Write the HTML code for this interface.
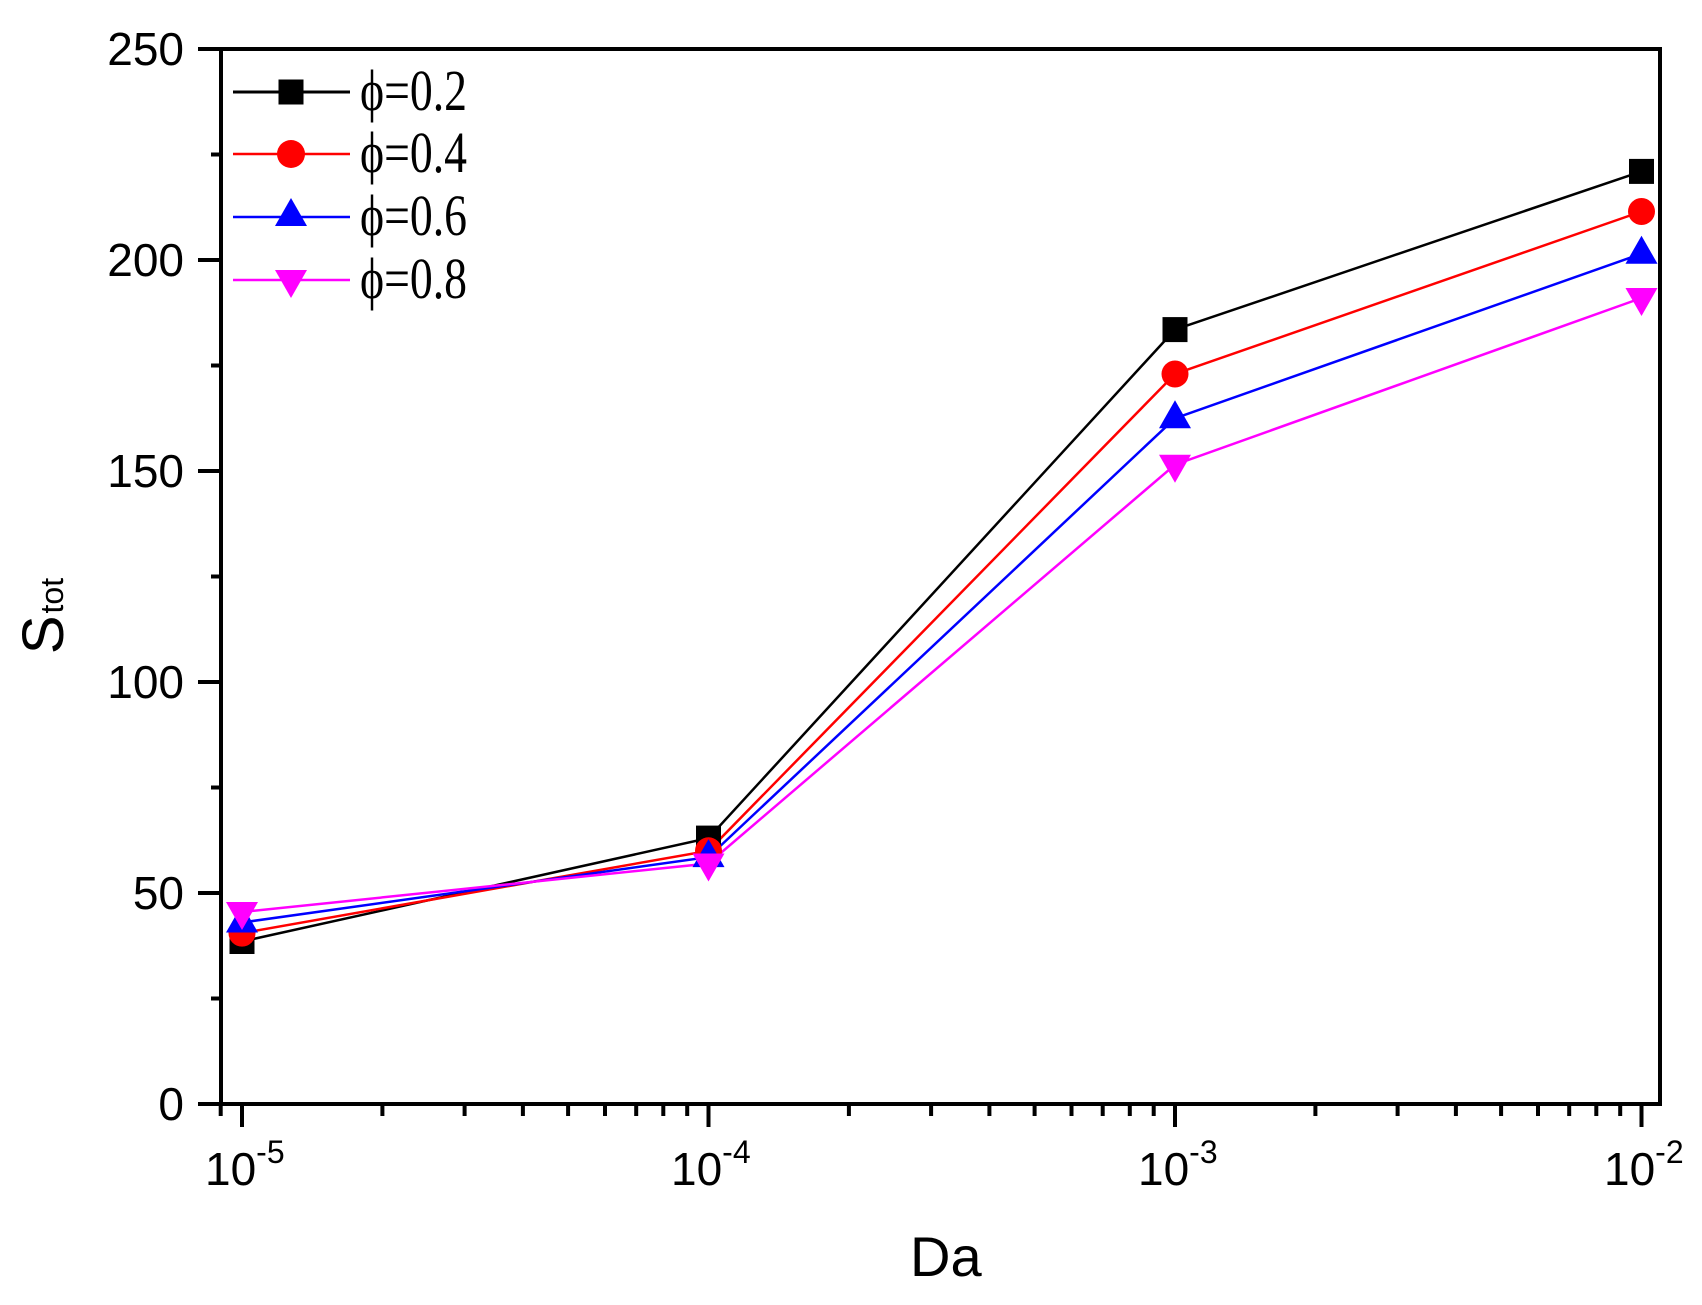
<!DOCTYPE html>
<html><head><meta charset="utf-8"><style>body{margin:0;background:#fff}svg{display:block}</style></head>
<body>
<svg width="1702" height="1305" viewBox="0 0 1702 1305" xmlns="http://www.w3.org/2000/svg">
<rect width="1702" height="1305" fill="#fff"/>
<g stroke="#000" stroke-width="4" fill="none">
<line x1="221" y1="1104" x2="198" y2="1104"/><line x1="221" y1="998.5" x2="211" y2="998.5"/>
<line x1="221" y1="893" x2="198" y2="893"/><line x1="221" y1="787.5" x2="211" y2="787.5"/>
<line x1="221" y1="682" x2="198" y2="682"/><line x1="221" y1="576.5" x2="211" y2="576.5"/>
<line x1="221" y1="471" x2="198" y2="471"/><line x1="221" y1="365.5" x2="211" y2="365.5"/>
<line x1="221" y1="260" x2="198" y2="260"/><line x1="221" y1="154.5" x2="211" y2="154.5"/>
<line x1="221" y1="49" x2="198" y2="49"/>
<line x1="242" y1="1104" x2="242" y2="1127"/><line x1="708.5" y1="1104" x2="708.5" y2="1127"/>
<line x1="1175" y1="1104" x2="1175" y2="1127"/><line x1="1641.5" y1="1104" x2="1641.5" y2="1127"/>
<path d="M220.7 1104v12 M382.4 1104v12 M464.6 1104v12 M522.9 1104v12 M568.1 1104v12 M605 1104v12 M636.2 1104v12 M663.3 1104v12 M687.2 1104v12 M848.9 1104v12 M931.1 1104v12 M989.4 1104v12 M1034.6 1104v12 M1071.5 1104v12 M1102.7 1104v12 M1129.8 1104v12 M1153.7 1104v12 M1315.4 1104v12 M1397.6 1104v12 M1455.9 1104v12 M1501.1 1104v12 M1538 1104v12 M1569.2 1104v12 M1596.3 1104v12 M1620.2 1104v12"/>
</g>
<g fill="none" stroke-width="2.5">
<polyline stroke="#000" points="242,941.5 708.5,838.1 1175,329.6 1641.5,171.4"/>
<polyline stroke="#f00" points="242,933.1 708.5,850.8 1175,374 1641.5,211.5"/>
<polyline stroke="#00f" points="242,922.5 708.5,857.1 1175,418.3 1641.5,253.7"/>
<polyline stroke="#f0f" points="242,912 708.5,863.5 1175,464.7 1641.5,298"/>
</g>
<g>
<rect x="229.5" y="929" width="25" height="25" fill="#000"/>
<rect x="696" y="825.6" width="25" height="25" fill="#000"/>
<rect x="1162.5" y="317.1" width="25" height="25" fill="#000"/>
<rect x="1629" y="158.9" width="25" height="25" fill="#000"/>
<circle cx="242" cy="933.1" r="13.5" fill="#f00"/>
<circle cx="708.5" cy="850.8" r="13.5" fill="#f00"/>
<circle cx="1175" cy="374" r="13.5" fill="#f00"/>
<circle cx="1641.5" cy="211.5" r="13.5" fill="#f00"/>
<polygon points="242,904.5 258,932.5 226,932.5" fill="#00f"/>
<polygon points="708.5,839.1 724.5,867.1 692.5,867.1" fill="#00f"/>
<polygon points="1175,400.3 1191,428.3 1159,428.3" fill="#00f"/>
<polygon points="1641.5,235.7 1657.5,263.7 1625.5,263.7" fill="#00f"/>
<polygon points="226,902 258,902 242,930" fill="#f0f"/>
<polygon points="692.5,853.5 724.5,853.5 708.5,881.5" fill="#f0f"/>
<polygon points="1159,454.7 1191,454.7 1175,482.7" fill="#f0f"/>
<polygon points="1625.5,288 1657.5,288 1641.5,316" fill="#f0f"/>
</g>
<rect x="221" y="49" width="1439" height="1055" fill="none" stroke="#000" stroke-width="4"/>
<g stroke-width="2.5">
<line x1="233" y1="92" x2="350" y2="92" stroke="#000" stroke-width="3"/>
<rect x="278.5" y="79.5" width="25" height="25" fill="#000"/>
<line x1="233" y1="154" x2="350" y2="154" stroke="#f00"/>
<circle cx="291" cy="154" r="14" fill="#f00"/>
<line x1="233" y1="217" x2="350" y2="217" stroke="#00f"/>
<polygon points="291,198 307,226 275,226" fill="#00f"/>
<line x1="233" y1="280" x2="350" y2="280" stroke="#f0f"/>
<polygon points="275,270 307,270 291,298" fill="#f0f"/>
</g>
<g font-family="Liberation Serif, DejaVu Serif, serif" font-size="58" fill="#000">
<text x="360" y="110" textLength="107" lengthAdjust="spacingAndGlyphs">ϕ=0.2</text>
<text x="360" y="172" textLength="107" lengthAdjust="spacingAndGlyphs">ϕ=0.4</text>
<text x="360" y="235" textLength="107" lengthAdjust="spacingAndGlyphs">ϕ=0.6</text>
<text x="360" y="298" textLength="107" lengthAdjust="spacingAndGlyphs">ϕ=0.8</text>
</g>
<g font-family="Liberation Sans, sans-serif" font-size="46" fill="#000" text-anchor="end">
<text x="184" y="1120">0</text>
<text x="184" y="909">50</text>
<text x="184" y="698">100</text>
<text x="184" y="487">150</text>
<text x="184" y="276">200</text>
<text x="184" y="65">250</text>
</g>
<g font-family="Liberation Sans, sans-serif" fill="#000">
<text x="205" y="1185" font-size="46">10<tspan dy="-22" font-size="32">-5</tspan></text>
<text x="671" y="1185" font-size="46">10<tspan dy="-22" font-size="32">-4</tspan></text>
<text x="1138" y="1185" font-size="46">10<tspan dy="-22" font-size="32">-3</tspan></text>
<text x="1604" y="1185" font-size="46">10<tspan dy="-22" font-size="32">-2</tspan></text>
<text x="910" y="1276" font-size="56">Da</text>
<text transform="translate(63,616) rotate(-90)" text-anchor="middle" font-size="58">S<tspan font-size="32" dy="0" dx="2">tot</tspan></text>
</g>
</svg>
</body></html>
